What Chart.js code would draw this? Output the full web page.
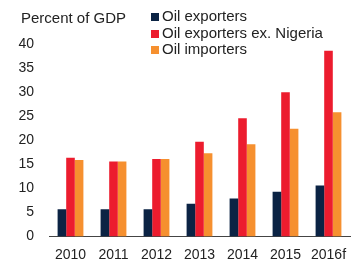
<!DOCTYPE html>
<html>
<head>
<meta charset="utf-8">
<script src="https://cdn.jsdelivr.net/npm/chart.js@4"></script>
<style>
  html, body { margin: 0; padding: 0; background: #fff; }
  #wrap { position: relative; width: 362px; height: 260px; font-family: "Liberation Sans", Arial, sans-serif; color: #222; }
  #title { position: absolute; left: 21px; top: 9px; font-size: 15px; }
  #legend { position: absolute; left: 151px; top: 8px; font-size: 15px; line-height: 16.5px; }
  #legend span.box { display: inline-block; width: 8px; height: 8px; margin-right: 3px; }
</style>
</head>
<body>
<div id="wrap">
  <canvas id="myChart" width="362" height="260"></canvas>
  <div id="title">Percent of GDP</div>
  <div id="legend"></div>
</div>
<script>
// data
var years = ['2010', '2011', '2012', '2013', '2014', '2015', '2016f'];
var oilExporters = [5.7, 5.7, 5.7, 6.8, 7.9, 9.3, 10.6];
var exNigeria = [16.4, 15.6, 16.1, 19.7, 24.6, 30.0, 38.6];
var oilImporters = [15.9, 15.6, 16.1, 17.3, 19.2, 22.4, 25.8];
var seriesNames = ['Oil exporters', 'Oil exporters ex. Nigeria', 'Oil importers'];
var colors = ['#0b2344', '#ec1c2e', '#f6902f'];

(()=>{
    var ctx = document.getElementById('myChart').getContext('2d');
    var vals = [oilExporters, exNigeria, oilImporters];

    var myChart = new Chart(ctx, {
      type: 'bar',
      data: {
        labels: years,
        datasets: vals.map((v, i) => ({
          label: seriesNames[i],
          data: v,
          backgroundColor: colors[i],
          categoryPercentage: 0.6,
          barPercentage: 1.0
        }))
      },
      options: {
        responsive: false,
        animation: false,
        layout: { padding: { top: 44, right: 12, left: 0, bottom: 0 } },
        plugins: { legend: { display: false }, tooltip: { enabled: false } },
        scales: {
          x: {
            grid: { display: false, drawTicks: false },
            border: { display: true, color: '#444', width: 1 },
            ticks: { color: '#222', font: { family: 'Liberation Sans', size: 14 }, padding: 10 },
            afterFit: (s) => { s.height = 23; }
          },
          y: {
            min: 0, max: 40,
            grid: { display: false, drawTicks: false },
            border: { display: false },
            ticks: { stepSize: 5, color: '#222', font: { family: 'Liberation Sans', size: 14 }, padding: 15 },
            afterFit: (s) => { s.width = 49; }
          }
        }
      }
    });

    var lg = document.getElementById('legend');
    seriesNames.forEach((n, i) => {
      var d = document.createElement('div');
      d.innerHTML = '<span class="box" style="background:' + colors[i] + '"></span>' + n;
      lg.appendChild(d);
    });

    myChart.update()
})();
</script>
</body>
</html>
